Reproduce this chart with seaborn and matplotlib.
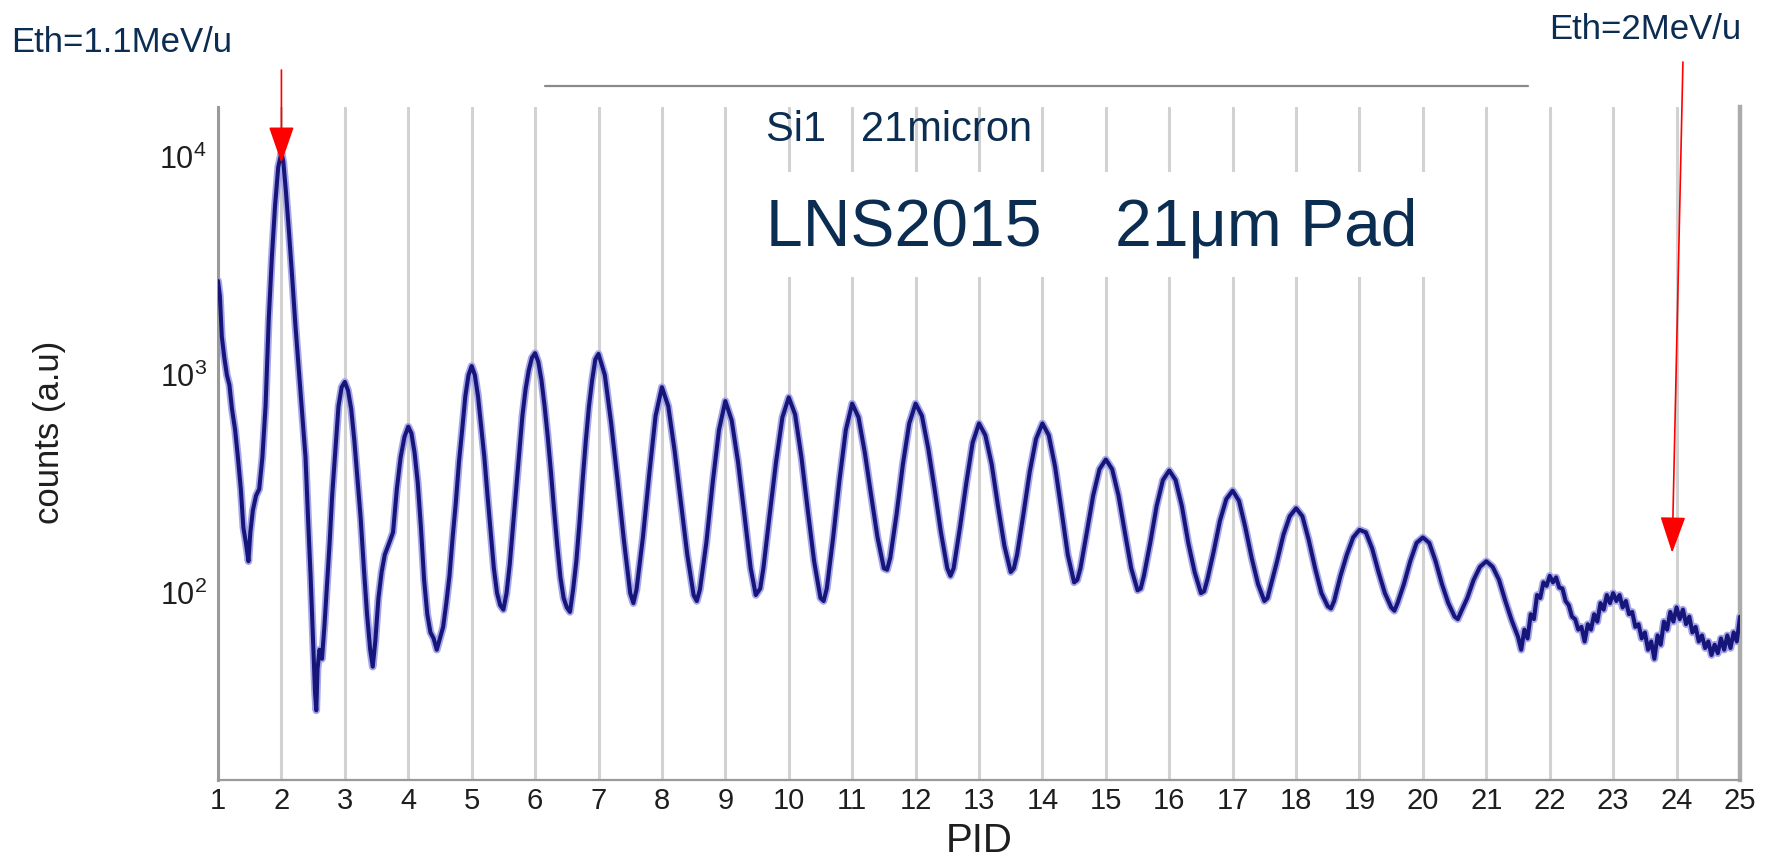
import matplotlib
matplotlib.use("Agg")
import matplotlib.pyplot as plt
import matplotlib.ticker as mticker
from matplotlib.patches import Rectangle
from matplotlib.lines import Line2D
import seaborn as sns
import pandas as pd

# ---------------- data ----------------
pid_start = [1.00, 1.03, 1.06, 1.10, 1.14, 1.18, 1.22, 1.27, 1.31, 1.36, 1.40, 1.44, 1.48, 1.51,
             1.55, 1.60, 1.65, 1.70, 1.75, 1.80, 1.85, 1.90, 1.95, 2.00, 2.03, 2.07, 2.12, 2.17,
             2.22, 2.28, 2.33, 2.38, 2.42, 2.46, 2.50, 2.53, 2.55, 2.57, 2.60, 2.64, 2.68, 2.72,
             2.76, 2.80, 2.85, 2.90, 2.95, 3.00, 3.05, 3.10, 3.15, 3.20, 3.25, 3.30, 3.35, 3.40,
             3.44, 3.48, 3.53, 3.58, 3.63, 3.70, 3.76, 3.82, 3.88, 3.94, 4.00, 4.05, 4.10, 4.15,
             4.20, 4.25, 4.30, 4.35, 4.40, 4.45, 4.50, 4.55, 4.60, 4.65, 4.70, 4.75, 4.80, 4.85,
             4.90, 4.95, 5.00, 5.05, 5.10, 5.15, 5.20, 5.25, 5.30, 5.35, 5.40, 5.45, 5.50, 5.55,
             5.60, 5.65, 5.70, 5.75, 5.80, 5.85, 5.90, 5.95, 6.00, 6.05, 6.10, 6.15, 6.20, 6.25,
             6.30, 6.35, 6.40, 6.45, 6.50, 6.55, 6.60, 6.65, 6.70, 6.75, 6.80, 6.85, 6.90, 6.95]
counts_start = [2700, 2300, 1500, 1200, 1000, 900, 700, 560, 430, 300, 200, 170, 140, 190,
                240, 280, 300, 420, 720, 1800, 3500, 6000, 9000, 10500, 9500, 7000, 4500, 2800,
                1700, 1000, 650, 420, 220, 120, 60, 35, 29, 45, 55, 50, 72, 110,
                170, 280, 450, 720, 880, 930, 850, 700, 500, 330, 220, 130, 80, 55,
                46, 60, 95, 125, 150, 170, 190, 300, 420, 520, 580, 540, 440, 320,
                200, 115, 80, 66, 62, 55, 62, 70, 90, 120, 180, 260, 400, 560,
                800, 1000, 1100, 1000, 800, 580, 420, 280, 190, 130, 100, 88, 84, 100,
                135, 200, 300, 440, 650, 860, 1050, 1200, 1260, 1150, 950, 720, 520, 360,
                240, 165, 118, 95, 86, 82, 104, 140, 210, 330, 500, 720, 950, 1180]

pid_mid = [7.0, 7.1, 7.2, 7.3, 7.4, 7.5, 7.55, 7.6, 7.7, 7.8, 7.9,
           8.0, 8.1, 8.2, 8.3, 8.4, 8.5, 8.55, 8.6, 8.7, 8.8, 8.9,
           9.0, 9.1, 9.2, 9.3, 9.4, 9.48, 9.55, 9.6, 9.7, 9.8, 9.9,
           10.0, 10.1, 10.2, 10.3, 10.4, 10.5, 10.55, 10.6, 10.7, 10.8, 10.9,
           11.0, 11.1, 11.2, 11.3, 11.4, 11.5, 11.55, 11.6, 11.7, 11.8, 11.9,
           12.0, 12.1, 12.2, 12.3, 12.4, 12.5, 12.55, 12.6, 12.7, 12.8, 12.9,
           13.0, 13.1, 13.2, 13.3, 13.4, 13.5, 13.55, 13.6, 13.7, 13.8, 13.9,
           14.0, 14.1, 14.2, 14.3, 14.4, 14.5, 14.55, 14.6, 14.7, 14.8, 14.9,
           15.0, 15.1, 15.2, 15.3, 15.4, 15.5, 15.55, 15.6, 15.7, 15.8, 15.9,
           16.0, 16.1, 16.2, 16.3, 16.4, 16.5, 16.55, 16.6, 16.7, 16.8, 16.9,
           17.0, 17.1, 17.2, 17.3, 17.4, 17.5, 17.55, 17.6, 17.7, 17.8, 17.9,
           18.0, 18.1, 18.2, 18.3, 18.4, 18.5, 18.55, 18.6, 18.7, 18.8, 18.9,
           19.0, 19.1, 19.2, 19.3, 19.4, 19.5, 19.55, 19.6, 19.7, 19.8, 19.9,
           20.0, 20.1, 20.2, 20.3, 20.4, 20.5, 20.55, 20.6, 20.7, 20.8, 20.9,
           21.0, 21.1, 21.2, 21.3, 21.4]
counts_mid = [1250, 1000, 600, 330, 175, 100, 90, 104, 180, 350, 650,
              880, 720, 450, 260, 150, 98, 92, 104, 170, 320, 560,
              760, 620, 400, 230, 130, 98, 105, 130, 230, 400, 640,
              790, 660, 420, 240, 140, 95, 92, 105, 180, 330, 560,
              740, 640, 440, 280, 180, 130, 128, 145, 230, 390, 600,
              740, 650, 460, 300, 190, 130, 120, 130, 200, 320, 490,
              600, 530, 390, 250, 165, 125, 130, 150, 230, 360, 510,
              600, 530, 380, 240, 150, 112, 115, 130, 190, 280, 370,
              410, 370, 280, 190, 130, 103, 105, 120, 170, 250, 330,
              365, 330, 250, 170, 125, 100, 102, 115, 155, 215, 270,
              295, 265, 200, 145, 110, 92, 95, 108, 140, 185, 225,
              245, 225, 175, 130, 100, 87, 85, 92, 120, 150, 180,
              195, 190, 160, 125, 100, 86, 83, 90, 110, 140, 170,
              180, 170, 140, 110, 90, 78, 76, 82, 95, 115, 132,
              140, 132, 115, 92, 75]

pid_tail = [21.50, 21.55, 21.60, 21.65, 21.70, 21.75, 21.80, 21.85, 21.90, 21.95,
            22.00, 22.05, 22.10, 22.15, 22.20, 22.25, 22.30, 22.35, 22.40, 22.45,
            22.50, 22.55, 22.60, 22.65, 22.70, 22.75, 22.80, 22.85, 22.90, 22.95,
            23.00, 23.05, 23.10, 23.15, 23.20, 23.25, 23.30, 23.35, 23.40, 23.45,
            23.50, 23.55, 23.60, 23.65, 23.70, 23.75, 23.80, 23.85, 23.90, 23.95,
            24.00, 24.05, 24.10, 24.15, 24.20, 24.25, 24.30, 24.35, 24.40, 24.45,
            24.50, 24.55, 24.60, 24.65, 24.70, 24.75, 24.80, 24.85, 24.90, 24.95, 25.00]
counts_tail = [63, 55, 68, 62, 80, 76, 98, 95, 112, 108,
               120, 112, 118, 106, 105, 92, 88, 78, 76, 68,
               70, 60, 72, 68, 80, 74, 90, 84, 98, 90,
               100, 92, 98, 86, 92, 80, 82, 70, 72, 62,
               66, 55, 60, 50, 64, 58, 74, 68, 82, 74,
               86, 76, 84, 72, 78, 66, 70, 60, 64, 56,
               60, 52, 58, 53, 62, 55, 64, 56, 66, 60, 78]

x_ticks = list(range(1, 26))
x_tick_labels = [str(v) for v in x_ticks]
eth_low_pid, eth_high_pid = 2.0, 23.93
eth_low_tip, eth_high_tip = 9400, 153

pid_all = pid_start + pid_mid + pid_tail
counts_all = counts_start + counts_mid + counts_tail
df = pd.DataFrame({"PID": pid_all, "counts": counts_all})

# ---------------- figure ----------------
sns.set_style("white")
plt.rcParams["font.family"] = ["Liberation Sans", "DejaVu Sans"]

W, H = 1771, 859
fig = plt.figure(figsize=(W / 100, H / 100), dpi=100)
fig.patch.set_facecolor("white")
ax = fig.add_axes([218 / W, 1 - 780 / H, (1740 - 218) / W, (780 - 107) / H])

ax.set_yscale("log")
ax.set_xlim(1, 25)
ax.set_ylim(13.9, 16950)

# halo + core line to mimic the rendered histogram
sns.lineplot(data=df, x="PID", y="counts", ax=ax, sort=False, estimator=None,
             color="#a6a6e8", lw=5.5, zorder=2)
sns.lineplot(data=df, x="PID", y="counts", ax=ax, sort=False, estimator=None,
             color="#15157a", lw=2.9, zorder=3)

# grid
ax.set_axisbelow(True)
ax.grid(axis="x", which="major", color="#d2d2d2", lw=2.2)
ax.grid(axis="y", visible=False)

# white box behind the title text
ax.add_patch(Rectangle((747 / W, 1 - 277 / H), (1448 - 747) / W, (277 - 172) / H,
                       transform=fig.transFigure, facecolor="white", edgecolor="none",
                       zorder=1))
fig.add_artist(Line2D([545 / W, 1528 / W], [1 - 86 / H, 1 - 86 / H], color="#8a8a8a", lw=1.6))

# spines
ax.spines["top"].set_visible(False)
ax.spines["left"].set_color("#9a9a9a")
ax.spines["left"].set_linewidth(2.2)
ax.spines["bottom"].set_color("#9a9a9a")
ax.spines["bottom"].set_linewidth(1.6)
ax.spines["right"].set_color("#ababab")
ax.spines["right"].set_linewidth(3.2)

# ticks
ax.set_xticks(x_ticks)
ax.set_xticklabels(x_tick_labels)
ax.xaxis.set_minor_locator(mticker.MultipleLocator(0.2))
ax.yaxis.set_major_locator(mticker.LogLocator(base=10))
ax.yaxis.set_minor_locator(mticker.LogLocator(base=10, subs=[2, 3, 4, 5, 6, 7, 8, 9]))
ax.yaxis.set_minor_formatter(mticker.NullFormatter())
ax.tick_params(axis="x", which="major", direction="in", length=14, width=1.2, color="#8a8a8a",
               labelsize=21, labelcolor="#1e1e1e", pad=5, top=False)
ax.tick_params(axis="x", which="minor", direction="in", length=6.5, width=1.1, color="#8a8a8a",
               top=False)
ax.tick_params(axis="y", which="major", direction="in", length=36, width=1.1, color="#8a8a8a",
               labelsize=22, labelcolor="#1e1e1e", pad=8, right=False)
ax.tick_params(axis="y", which="minor", direction="in", length=18, width=1.1, color="#8a8a8a",
               right=False)

ax.set_xlabel("PID", fontsize=29, color="#1e1e1e", va="center")
ax.xaxis.set_label_coords(0.5, -0.09)
ax.set_ylabel("counts (a.u)", fontsize=25, color="#1e1e1e", va="center")
ax.yaxis.set_label_coords(-0.1105, 0.517)

# annotations
navy = "#0c2d52"
fig.text(11 / W, 1 - 52 / H, "Eth=1.1MeV/u", fontsize=25, color=navy, ha="left", va="baseline")
fig.text(1549 / W, 1 - 39 / H, "Eth=2MeV/u", fontsize=25, color=navy, ha="left", va="baseline")
fig.text(766 / W, 1 - 141 / H, "Si1   21micron", fontsize=30, color=navy, ha="left", va="baseline")
fig.text(766 / W, 1 - 246 / H, "LNS2015    21μm Pad", fontsize=47.5, color=navy, ha="left",
         va="baseline")

arrow = dict(arrowstyle="-|>,head_length=2.3,head_width=0.8", color="red", lw=1.2,
             shrinkA=0, shrinkB=0, mutation_scale=10)
ax.annotate("", xy=(eth_low_pid, eth_low_tip), xycoords="data",
            xytext=(eth_low_pid, 1 - 70 / H), textcoords=("data", "figure fraction"),
            arrowprops=arrow, annotation_clip=False)
ax.annotate("", xy=(eth_high_pid, eth_high_tip), xycoords="data",
            xytext=(24.1, 1 - 62 / H), textcoords=("data", "figure fraction"),
            arrowprops=arrow, annotation_clip=False)

fig.savefig("out.png", dpi=100, facecolor="white")
